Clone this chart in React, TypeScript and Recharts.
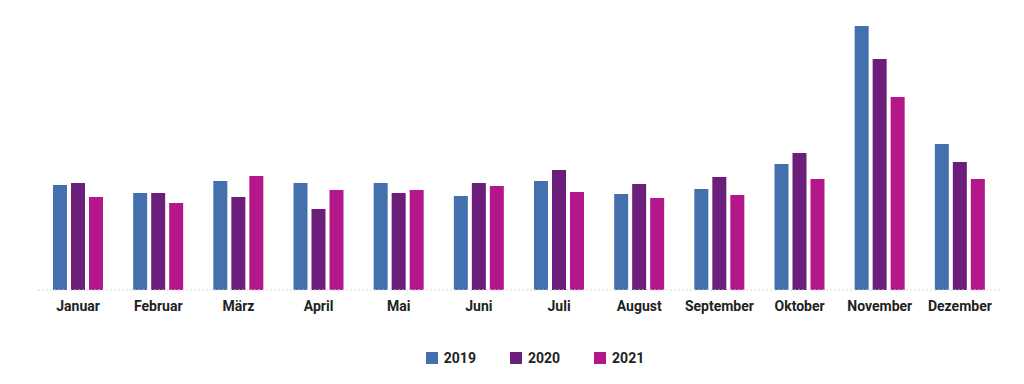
import { Bar, BarChart, Legend, XAxis, YAxis } from "recharts";

const months = [
  "Januar",
  "Februar",
  "März",
  "April",
  "Mai",
  "Juni",
  "Juli",
  "August",
  "September",
  "Oktober",
  "November",
  "Dezember",
];

const values2019 = [105, 97, 109, 107, 107, 94, 109, 96, 101, 126, 264, 146];
const values2020 = [107, 97, 93, 81, 97, 107, 120, 106, 113, 137, 231, 128];
const values2021 = [93, 87, 114, 100, 100, 104, 98, 92, 95, 111, 193, 111];

const series = [
  { key: "y2019", name: "2019", color: "#4470ae" },
  { key: "y2020", name: "2020", color: "#6c1f7a" },
  { key: "y2021", name: "2021", color: "#b3178a" },
];

const data = months.map((month, i) => ({
  month,
  y2019: values2019[i],
  y2020: values2020[i],
  y2021: values2021[i],
}));

function YearLegend() {
  return (
    <div style={{ display: "flex", justifyContent: "center", gap: 34, paddingLeft: 46 }}>
      {series.map((s) => (
        <div key={s.key} style={{ display: "flex", alignItems: "center", gap: 6 }}>
          <span style={{ width: 12, height: 12, background: s.color, display: "inline-block" }} />
          <span style={{ fontSize: 14, fontWeight: 700, color: "#222" }}>{s.name}</span>
        </div>
      ))}
    </div>
  );
}

export default function App() {
  return (
    <div style={{ position: "absolute", left: 0, top: 0, fontFamily: "Roboto, sans-serif" }}>
      <BarChart
        width={1024}
        height={384}
        data={data}
        margin={{ top: 26, right: 24, left: 38, bottom: 38 }}
        barGap={4}
      >
        <XAxis
          dataKey="month"
          tickLine={false}
          axisLine={{ stroke: "#d8d8d8", strokeDasharray: "2 2" }}
          tick={{ fontSize: 14, fontWeight: 700, fill: "#222" }}
          tickMargin={5}
          height={40}
        />
        <YAxis hide domain={[0, 264]} />
        <Legend
          content={<YearLegend />}
          wrapperStyle={{ position: "absolute", top: 350, left: 0, width: 1024, bottom: "auto" }}
        />
        {series.map((s) => (
          <Bar
            key={s.key}
            dataKey={s.key}
            name={s.name}
            fill={s.color}
            barSize={14}
            isAnimationActive={false}
          />
        ))}
      </BarChart>
    </div>
  );
}
